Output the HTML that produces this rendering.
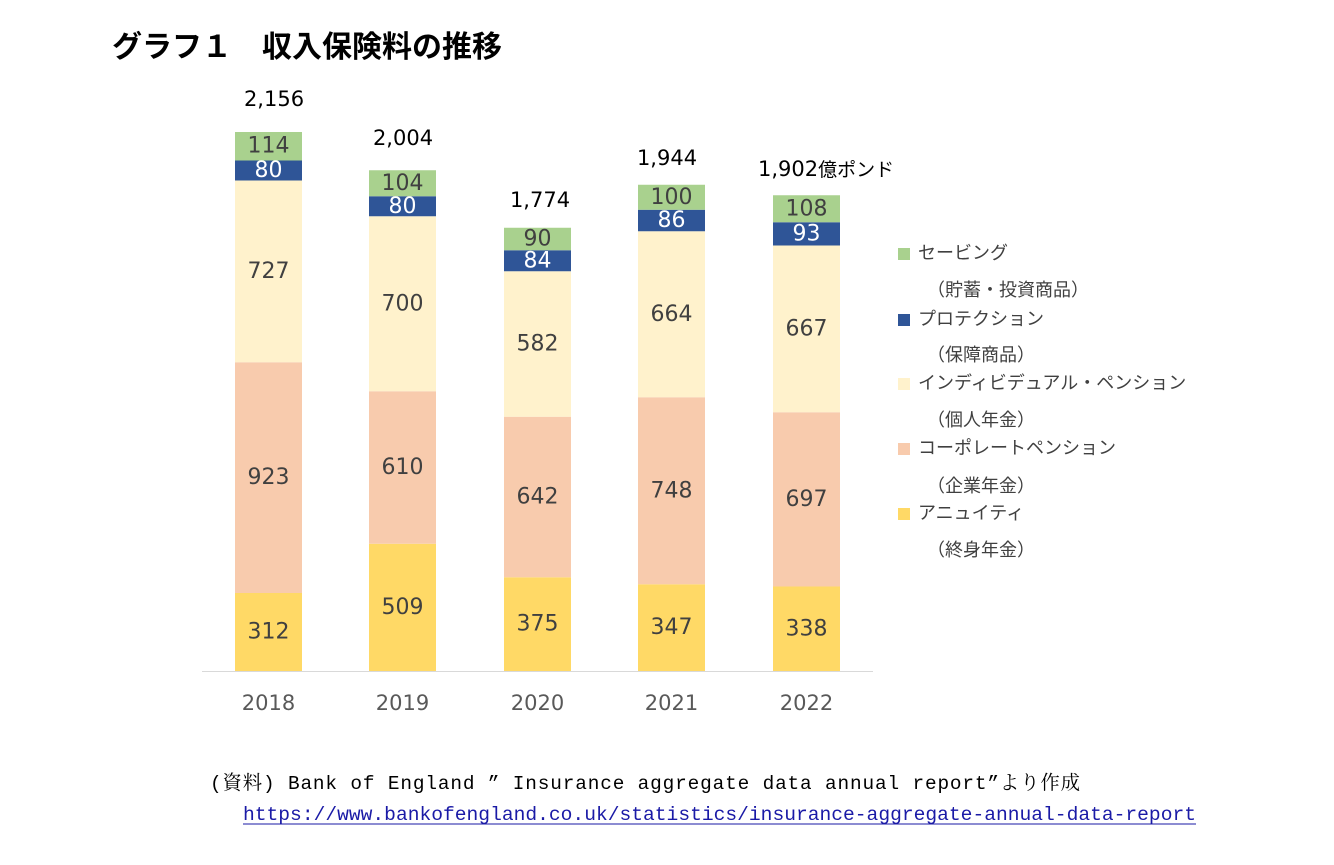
<!DOCTYPE html>
<html><head><meta charset="utf-8"><style>
body{margin:0;background:#fff}
svg{display:block}
.v{font-family:"DejaVu Sans","Noto Sans CJK JP",sans-serif;font-size:22px;fill:#404040;text-anchor:middle;dominant-baseline:central}
.w{fill:#fff}
.t{font-family:"DejaVu Sans","Noto Sans CJK JP",sans-serif;font-size:21px;fill:#000;text-anchor:middle}
.y{font-family:"DejaVu Sans","Noto Sans CJK JP",sans-serif;font-size:21px;fill:#595959;text-anchor:middle}
.l{font-family:"Liberation Sans","Noto Sans CJK JP",sans-serif;font-size:18px;fill:#404040;dominant-baseline:central}
.s{font-family:"Liberation Mono","Noto Serif CJK SC",monospace;font-size:19.4px;fill:#000}
</style></head><body>
<svg width="1334" height="865" viewBox="0 0 1334 865" xmlns="http://www.w3.org/2000/svg">
<text x="112" y="57" font-family="'Liberation Sans','Noto Sans CJK JP',sans-serif" font-size="30" font-weight="bold" fill="#000">グラフ１　収入保険料の推移</text>
<line x1="202" y1="671.5" x2="873" y2="671.5" stroke="#d9d9d9" stroke-width="1"/>
<rect x="235" y="593" width="67" height="78" fill="#FFD966"/>
<rect x="235" y="362.25" width="67" height="230.75" fill="#F8CBAD"/>
<rect x="235" y="180.5" width="67" height="181.75" fill="#FFF2CC"/>
<rect x="235" y="160.5" width="67" height="20" fill="#2F5597"/>
<rect x="235" y="132" width="67" height="28.5" fill="#A9D18E"/>
<text class="v" x="268.5" y="632">312</text><text class="v" x="268.5" y="477.6">923</text><text class="v" x="268.5" y="271.4">727</text><text class="v w" x="268.5" y="170.5">80</text><text class="v" x="268.5" y="146">114</text>
<rect x="369" y="543.75" width="67" height="127.25" fill="#FFD966"/>
<rect x="369" y="391.25" width="67" height="152.5" fill="#F8CBAD"/>
<rect x="369" y="216.25" width="67" height="175" fill="#FFF2CC"/>
<rect x="369" y="196.25" width="67" height="20" fill="#2F5597"/>
<rect x="369" y="170.25" width="67" height="26" fill="#A9D18E"/>
<text class="v" x="402.5" y="607.4">509</text><text class="v" x="402.5" y="467.5">610</text><text class="v" x="402.5" y="303.75">700</text><text class="v w" x="402.5" y="206.25">80</text><text class="v" x="402.5" y="183.25">104</text>
<rect x="504" y="577.25" width="67" height="93.75" fill="#FFD966"/>
<rect x="504" y="416.75" width="67" height="160.5" fill="#F8CBAD"/>
<rect x="504" y="271.25" width="67" height="145.5" fill="#FFF2CC"/>
<rect x="504" y="250.25" width="67" height="21" fill="#2F5597"/>
<rect x="504" y="227.75" width="67" height="22.5" fill="#A9D18E"/>
<text class="v" x="537.5" y="624">375</text><text class="v" x="537.5" y="497">642</text><text class="v" x="537.5" y="344">582</text><text class="v w" x="537.5" y="260.75">84</text><text class="v" x="537.5" y="239">90</text>
<rect x="638" y="584.25" width="67" height="86.75" fill="#FFD966"/>
<rect x="638" y="397.25" width="67" height="187" fill="#F8CBAD"/>
<rect x="638" y="231.25" width="67" height="166" fill="#FFF2CC"/>
<rect x="638" y="209.75" width="67" height="21.5" fill="#2F5597"/>
<rect x="638" y="184.75" width="67" height="25" fill="#A9D18E"/>
<text class="v" x="671.5" y="627.6">347</text><text class="v" x="671.5" y="490.75">748</text><text class="v" x="671.5" y="314.25">664</text><text class="v w" x="671.5" y="220.5">86</text><text class="v" x="671.5" y="197.25">100</text>
<rect x="773" y="586.5" width="67" height="84.5" fill="#FFD966"/>
<rect x="773" y="412.25" width="67" height="174.25" fill="#F8CBAD"/>
<rect x="773" y="245.5" width="67" height="166.75" fill="#FFF2CC"/>
<rect x="773" y="222.25" width="67" height="23.25" fill="#2F5597"/>
<rect x="773" y="195.25" width="67" height="27" fill="#A9D18E"/>
<text class="v" x="806.5" y="628.75">338</text><text class="v" x="806.5" y="499.4">697</text><text class="v" x="806.5" y="328.9">667</text><text class="v w" x="806.5" y="233.9">93</text><text class="v" x="806.5" y="208.75">108</text>
<text class="t" x="274" y="106">2,156</text>
<text class="t" x="403" y="145">2,004</text>
<text class="t" x="540" y="207">1,774</text>
<text class="t" x="667" y="165">1,944</text>
<text x="758" y="176" font-family="'DejaVu Sans','Noto Sans CJK JP',sans-serif" font-size="21" fill="#000">1,902<tspan font-family="'Noto Sans CJK JP',sans-serif" font-size="19">億ポンド</tspan></text>
<text class="y" x="268.5" y="710">2018</text><text class="y" x="402.5" y="710">2019</text><text class="y" x="537.5" y="710">2020</text><text class="y" x="671.5" y="710">2021</text><text class="y" x="806.5" y="710">2022</text>
<rect x="898" y="248" width="12" height="12" fill="#A9D18E"/><text class="l" x="918" y="253">セービング</text>
<text class="l" x="927" y="290">（貯蓄・投資商品）</text>
<rect x="898" y="314" width="12" height="12" fill="#2F5597"/><text class="l" x="918" y="319">プロテクション</text>
<text class="l" x="927" y="355">（保障商品）</text>
<rect x="898" y="378" width="12" height="12" fill="#FFF2CC"/><text class="l" x="918" y="383">インディビデュアル・ペンション</text>
<text class="l" x="927" y="420">（個人年金）</text>
<rect x="898" y="443" width="12" height="12" fill="#F8CBAD"/><text class="l" x="918" y="448">コーポレートペンション</text>
<text class="l" x="927" y="486">（企業年金）</text>
<rect x="898" y="508" width="12" height="12" fill="#FFD966"/><text class="l" x="918" y="513">アニュイティ</text>
<text class="l" x="927" y="550">（終身年金）</text>
<text class="s" x="210" y="789" textLength="870" lengthAdjust="spacing">(資料) Bank of England ” Insurance aggregate data annual report”より作成</text>
<text class="s" x="243" y="820" style="fill:#1a1aa6" textLength="953" lengthAdjust="spacingAndGlyphs">https://www.bankofengland.co.uk/statistics/insurance-aggregate-annual-data-report</text>
<line x1="243" y1="824" x2="1196" y2="824" stroke="#1a1aa6" stroke-width="1"/>
</svg>
</body></html>
